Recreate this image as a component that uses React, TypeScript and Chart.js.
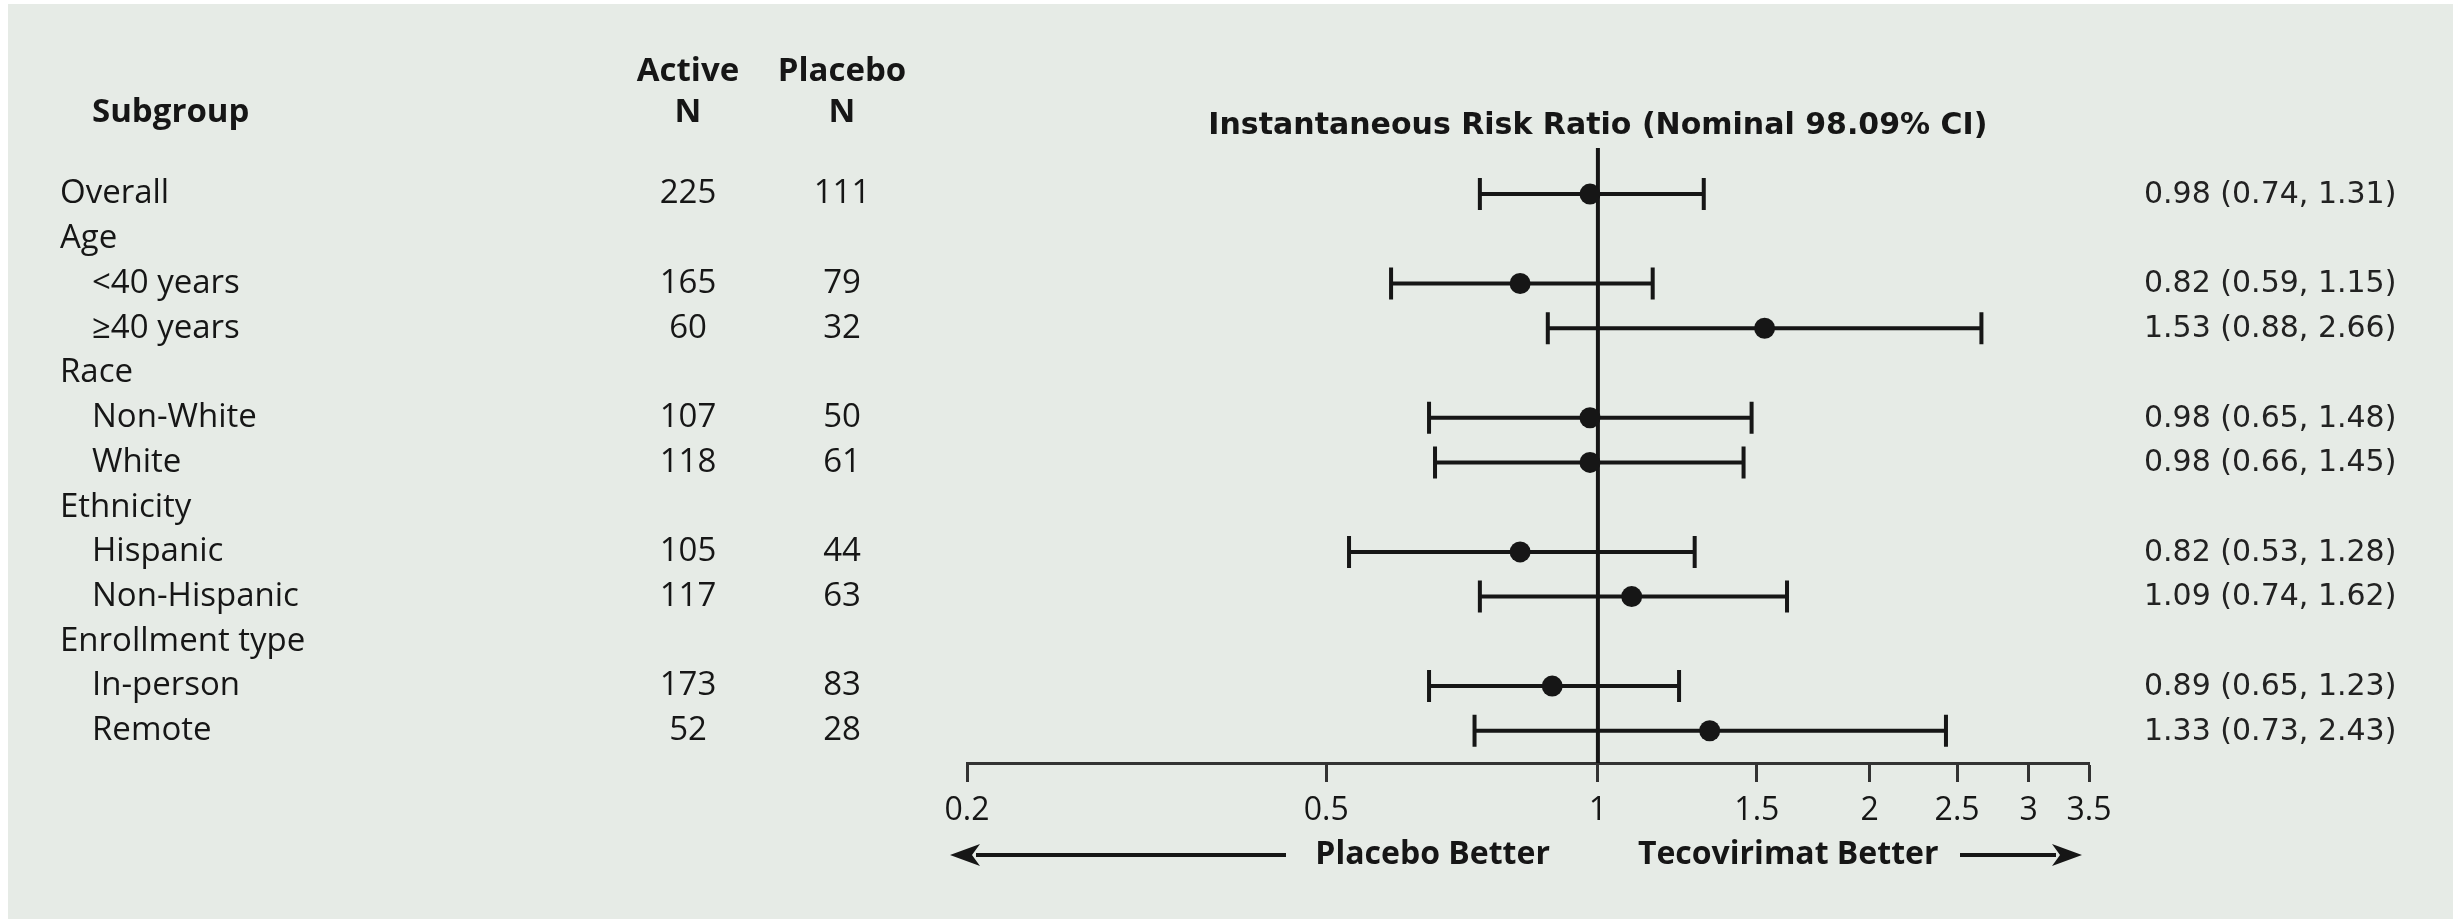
import React, { useEffect, useRef } from "react";
import { Chart, registerables } from "chart.js";

Chart.register(...registerables);

// ---------------- data ----------------
const subgroups = [
  "Overall",
  "Age",
  "<40 years",
  "≥40 years",
  "Race",
  "Non-White",
  "White",
  "Ethnicity",
  "Hispanic",
  "Non-Hispanic",
  "Enrollment type",
  "In-person",
  "Remote",
];
const indented = [false, false, true, true, false, true, true, false, true, true, false, true, true];
const activeN: (number | null)[] = [225, null, 165, 60, null, 107, 118, null, 105, 117, null, 173, 52];
const placeboN: (number | null)[] = [111, null, 79, 32, null, 50, 61, null, 44, 63, null, 83, 28];
const riskRatio: (number | null)[] = [0.98, null, 0.82, 1.53, null, 0.98, 0.98, null, 0.82, 1.09, null, 0.89, 1.33];
const ciLower: (number | null)[] = [0.74, null, 0.59, 0.88, null, 0.65, 0.66, null, 0.53, 0.74, null, 0.65, 0.73];
const ciUpper: (number | null)[] = [1.31, null, 1.15, 2.66, null, 1.48, 1.45, null, 1.28, 1.62, null, 1.23, 2.43];
const xTicks = [0.2, 0.5, 1, 1.5, 2, 2.5, 3, 3.5];

const titleText = "Instantaneous Risk Ratio (Nominal 98.09% CI)";
const subgroupHeader = "Subgroup";
const activeHeader = ["Active", "N"];
const placeboHeader = ["Placebo", "N"];
const leftFavour = "Placebo Better";
const rightFavour = "Tecovirimat Better";

// ---------------- styles ----------------
const BG = "rgb(230,235,230)";
const INK = "#161616";
const LABEL_FONT = '33px "Open Sans"';
const HEAD_FONT = 'bold 33px "Open Sans"';
const TITLE_FONT = 'bold 30px "DejaVu Sans"';
const CI_FONT = '30px "DejaVu Sans"';
const FAV_FONT = 'bold 32px "Open Sans"';

const W = 2445;
const H = 915;

function fmt(v: number) {
  return v.toFixed(2);
}

export default function App() {
  const ref = useRef<HTMLCanvasElement>(null);

  useEffect(() => {
    const canvas = ref.current;
    if (!canvas) return;

    const points = riskRatio
      .map((r, i) => (r == null ? null : { x: r, y: i }))
      .filter((p) => p !== null) as { x: number; y: number }[];

    const forestPlugin = {
      id: "forest",
      beforeDraw(chart: any) {
        const ctx = chart.ctx;
        ctx.save();
        ctx.fillStyle = BG;
        ctx.fillRect(0, 0, chart.width, chart.height);
        ctx.restore();
      },
      beforeDatasetsDraw(chart: any) {
        const ctx = chart.ctx;
        const xs = chart.scales.x;
        const ys = chart.scales.y;
        const area = chart.chartArea;
        ctx.save();
        // reference line at 1
        const x1 = xs.getPixelForValue(1);
        ctx.strokeStyle = INK;
        ctx.lineWidth = 4;
        ctx.beginPath();
        ctx.moveTo(x1, area.top);
        ctx.lineTo(x1, area.bottom);
        ctx.stroke();
        // CI bars
        ctx.lineWidth = 4;
        riskRatio.forEach((r, i) => {
          if (r == null) return;
          const lo = ciLower[i] as number;
          const hi = ciUpper[i] as number;
          const y = ys.getPixelForValue(i);
          const a = xs.getPixelForValue(lo);
          const b = xs.getPixelForValue(hi);
          ctx.beginPath();
          ctx.moveTo(a, y);
          ctx.lineTo(b, y);
          ctx.moveTo(a, y - 16);
          ctx.lineTo(a, y + 16);
          ctx.moveTo(b, y - 16);
          ctx.lineTo(b, y + 16);
          ctx.stroke();
        });
        ctx.restore();
      },
      afterDraw(chart: any) {
        const ctx = chart.ctx;
        const xs = chart.scales.x;
        const ys = chart.scales.y;
        const xOne = xs.getPixelForValue(1);
        ctx.save();
        ctx.fillStyle = INK;
        ctx.textBaseline = "middle";

        // column headers
        ctx.font = HEAD_FONT;
        ctx.textAlign = "left";
        ctx.fillText(subgroupHeader, 84, 109);
        ctx.textAlign = "center";
        ctx.fillText(activeHeader[0], 680, 68);
        ctx.fillText(activeHeader[1], 680, 109);
        ctx.fillText(placeboHeader[0], 834, 68);
        ctx.fillText(placeboHeader[1], 834, 109);

        // title
        ctx.font = TITLE_FONT;
        ctx.textAlign = "center";
        ctx.fillText(titleText, xOne, 122);

        // rows
        subgroups.forEach((label, i) => {
          const y = ys.getPixelForValue(i);
          ctx.font = LABEL_FONT;
          ctx.fillStyle = INK;
          ctx.textAlign = "left";
          ctx.fillText(label, indented[i] ? 84 : 52, y);
          ctx.textAlign = "center";
          if (activeN[i] != null) ctx.fillText(String(activeN[i]), 680, y);
          if (placeboN[i] != null) ctx.fillText(String(placeboN[i]), 834, y);
          const r = riskRatio[i];
          if (r != null) {
            ctx.font = CI_FONT;
            ctx.fillStyle = "#222";
            ctx.textAlign = "left";
            ctx.fillText(
              `${fmt(r)} (${fmt(ciLower[i] as number)}, ${fmt(ciUpper[i] as number)})`,
              2136,
              y + 1
            );
          }
        });

        // favour labels and arrows
        const yFav = 851;
        ctx.fillStyle = INK;
        ctx.font = FAV_FONT;
        ctx.textAlign = "right";
        ctx.fillText(leftFavour, xOne - 48, yFav);
        ctx.textAlign = "left";
        ctx.fillText(rightFavour, xOne + 40, yFav);

        const drawArrow = (from: number, to: number) => {
          const dir = to > from ? 1 : -1;
          const head = 30;
          ctx.strokeStyle = INK;
          ctx.lineWidth = 4;
          ctx.beginPath();
          ctx.moveTo(from, yFav);
          ctx.lineTo(to - dir * (head - 4), yFav);
          ctx.stroke();
          ctx.beginPath();
          ctx.moveTo(to, yFav);
          ctx.lineTo(to - dir * head, yFav - 11);
          ctx.lineTo(to - dir * (head - 8), yFav);
          ctx.lineTo(to - dir * head, yFav + 11);
          ctx.closePath();
          ctx.fill();
        };
        drawArrow(1278, xs.getPixelForValue(0.2) - 17);
        drawArrow(1952, xs.getPixelForValue(3.5) - 7);

        ctx.restore();
      },
    };

    const chart = new Chart(canvas, {
      type: "scatter",
      data: {
        datasets: [
          {
            data: points,
            pointRadius: 10.5,
            pointHoverRadius: 10.5,
            backgroundColor: INK,
            borderWidth: 0,
          },
        ],
      },
      options: {
        animation: false,
        responsive: false,
        maintainAspectRatio: false,
        events: [],
        layout: { padding: { left: 959, right: 364, top: 144, bottom: 86 } },
        plugins: { legend: { display: false }, tooltip: { enabled: false } },
        scales: {
          x: {
            type: "logarithmic",
            position: "bottom",
            min: 0.2,
            max: 3.5,
            offset: false,
            afterBuildTicks: (scale: any) => {
              scale.ticks = xTicks.map((v) => ({ value: v }));
            },
            afterFit: (scale: any) => {
              scale.height = 70;
            },
            ticks: {
              autoSkip: false,
              maxRotation: 0,
              minRotation: 0,
              padding: 10,
              color: INK,
              font: { family: "Open Sans", size: 32 },
              callback: (value: any) => String(value),
            },
            grid: {
              display: true,
              drawOnChartArea: false,
              drawTicks: true,
              tickLength: 19,
              tickWidth: 3,
              tickColor: "#333",
            },
            border: { display: true, color: "#333", width: 3 },
          },
          y: {
            type: "linear",
            display: false,
            min: -1.03,
            max: 12.72,
            reverse: true,
          },
        },
      },
      plugins: [forestPlugin],
    } as any);

    return () => chart.destroy();
  }, []);

  return (
    <canvas
      ref={ref}
      width={W}
      height={H}
      style={{ position: "absolute", left: 8, top: 4, width: W, height: H, display: "block" }}
    />
  );
}
